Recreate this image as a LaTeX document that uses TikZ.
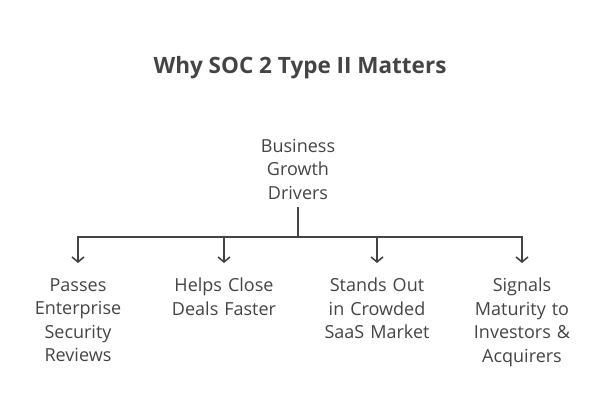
\documentclass[tikz,border=0pt]{standalone}
\usepackage{fontspec}
\setmainfont{Open Sans}
\usetikzlibrary{positioning,arrows.meta}
\definecolor{ink}{HTML}{444444}

\begin{document}
\begin{tikzpicture}[%
    x=1pt, y=-1pt,
    title/.style={
      font=\fontsize{22.5}{27}\selectfont\bfseries,
      text=ink,
      inner sep=0pt
    },
    driver/.style={
      text width=140pt,
      align=center,
      font=\fontsize{18}{23.5}\selectfont,
      text=ink,
      inner sep=0pt
    },
    reason/.style={
      driver,
      anchor=north
    },
    link/.style={
      draw=ink,
      line width=1.6pt
    },
    linkarrow/.style={
      link,
      -{Straight Barb[length=5pt,width=12pt,line width=1.6pt]}
    }
  ]
    % page size
    \useasboundingbox (0,0) rectangle (600,416);

    \node[title] (T) at (300,68) {Why SOC 2 Type II Matters};

    \node[driver] (R) at (298,169) {Business\\Growth\\Drivers};

    \node[reason] (A) at (78,278)  {Passes\\Enterprise\\Security\\Reviews};
    \node[reason] (B) at (224,278) {Helps Close\\Deals Faster};
    \node[reason] (C) at (377,278) {Stands Out\\in Crowded\\SaaS Market};
    \node[reason] (D) at (522,278) {Signals\\Maturity to\\Investors \&\\Acquirers};

    \coordinate (hub) at (298,237);

    % connectors
    \draw[link] ([yshift=-8pt]R.south) -- (hub);
    \draw[linkarrow, shorten >=15pt] (hub) -| (A.north);
    \draw[linkarrow, shorten >=15pt] (hub) -| (B.north);
    \draw[linkarrow, shorten >=15pt] (hub) -| (C.north);
    \draw[linkarrow, shorten >=15pt] (hub) -| (D.north);
\end{tikzpicture}
\end{document}
